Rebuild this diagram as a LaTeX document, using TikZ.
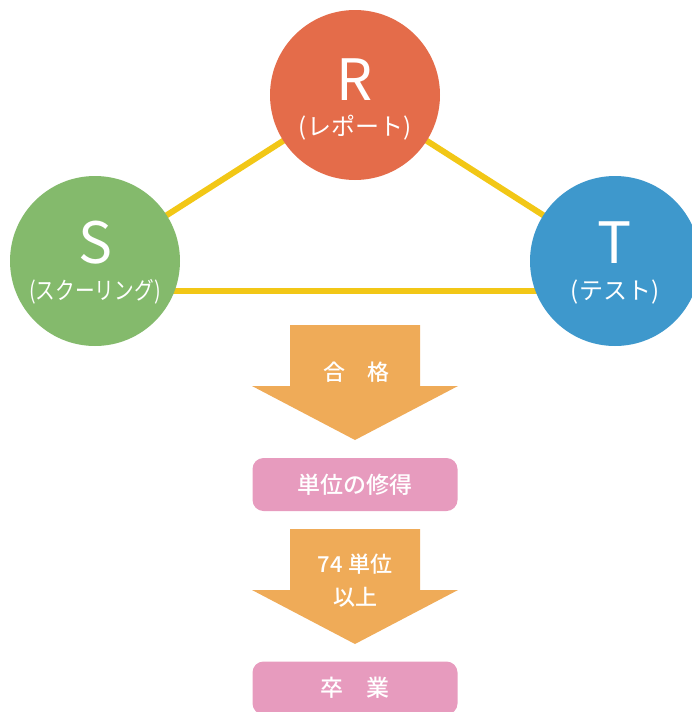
\documentclass[tikz,border=0pt]{standalone}
\usepackage{fontspec}
\setmainfont{Noto Sans CJK JP}
\newfontfamily\medfont{Noto Sans CJK JP Medium}
\usetikzlibrary{backgrounds}
\definecolor{cR}{HTML}{E46C4A}
\definecolor{cS}{HTML}{84BA6C}
\definecolor{cT}{HTML}{3E98CC}
\definecolor{cY}{HTML}{F2C716}
\definecolor{cA}{HTML}{EFAB58}
\definecolor{cP}{HTML}{E79BBE}
\tikzset{
  ball/.style={circle, inner sep=0pt, minimum size=170pt},
  big/.style={text=white, inner sep=0pt, font=\fontsize{57}{57}\selectfont, anchor=base},
  sub/.style={text=white, inner sep=0pt, font=\fontsize{24}{24}\selectfont, anchor=base},
  link/.style={draw=cY, line width=6pt},
  arrowbody/.style={fill=cA},
  lbl/.style={text=white, inner sep=0pt, font=\fontsize{22}{22}\selectfont\medfont},
  pbox/.style={fill=cP, rounded corners=11pt, minimum width=205pt, minimum height=53pt, inner sep=0pt, text=white, font=\fontsize{23}{23}\selectfont\medfont}
}
\begin{document}
\begin{tikzpicture}[x=1pt,y=-1pt]
\useasboundingbox (0,0) rectangle (691,712);
% circles
\node[ball, fill=cR] (R) at (355,95) {};
\node[ball, fill=cS] (S) at (95,261) {};
\node[ball, fill=cT] (T) at (615,261) {};
\begin{pgfonlayer}{background}
\draw[link] (R.center) -- (S.center);
\draw[link] (R.center) -- (T.center);
\draw[link] ([yshift=-30pt]S.center) -- ([yshift=-30pt]T.center);
\end{pgfonlayer}
\node[big] (Rl) at (355,100) {R};
\node[sub] (Rs) at (355,135) {(レポート)};
\node[big] (Sl) at (95,263) {S};
\node[sub, xscale=0.82] (Ss) at (95,299) {(スクーリング)};
\node[big] (Tl) at (615,263) {T};
\node[sub] (Ts) at (615,299) {(テスト)};
% arrow 1
\fill[arrowbody] (290,325) -- (420,325) -- (420,386) -- (458,386) -- (355,440) -- (252,386) -- (290,386) -- cycle;
\node[lbl] (a1) at (356,372) {合　格};
\node[pbox] (b1) at (355,484.5) {単位の修得};
% arrow 2
\fill[arrowbody] (290,529) -- (420,529) -- (420,590) -- (458,590) -- (355,644) -- (252,590) -- (290,590) -- cycle;
\node[lbl, align=center] (a2) at (355,581) {74 単位\\[11pt]以上};
\node[pbox] (b2) at (355,688) {卒　業};
\end{tikzpicture}
\end{document}
